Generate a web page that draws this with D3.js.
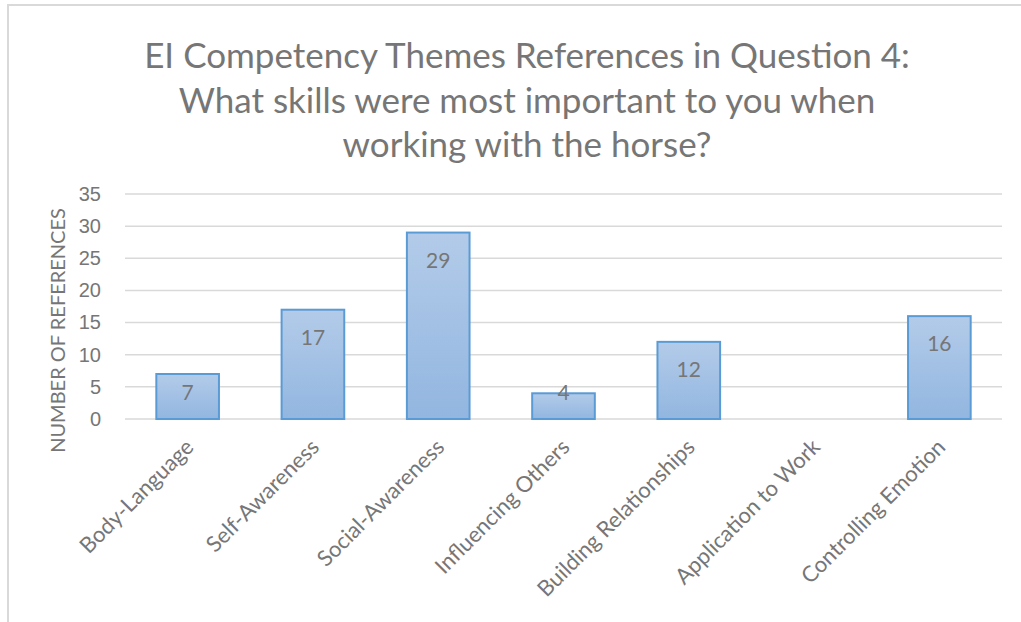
<!DOCTYPE html>
<html>
<head>
<meta charset="utf-8">
<script src="https://cdn.jsdelivr.net/npm/d3@7"></script>
<style>
  body { margin: 0; background: #fff; }
  svg { font-family: Lato, "Open Sans", sans-serif; }
  .grid line { stroke: #d9d9d9; stroke-width: 1.5; }
  .tick text { fill: #767676; }
</style>
</head>
<body>
<svg id="chart" width="1021" height="622"></svg>
<script>
// chart data
var categories = ["Body-Language", "Self-Awareness", "Social-Awareness", "Influencing Others",
                  "Building Relationships", "Application to Work", "Controlling Emotion"];
var references = [7, 17, 29, 4, 12, 0, 16];
var yTicks = [0, 5, 10, 15, 20, 25, 30, 35];
var titleLines = ["EI Competency Themes References in Question 4:",
                  "What skills were most important to you when",
                  "working with the horse?"];

var svg = d3.select("#chart");
var textColor = "#767676";

// frame (only top and left edges show in the picture)
svg.append("line").attr("x1", 7).attr("x2", 1021).attr("y1", 5).attr("y2", 5)
    .attr("stroke", "#d9d9d9").attr("stroke-width", 2);
svg.append("line").attr("x1", 8).attr("x2", 8).attr("y1", 5).attr("y2", 622)
    .attr("stroke", "#d9d9d9").attr("stroke-width", 2);

var margin = {left: 125, right: 19, top: 194, bottom: 203};
var width = 1021 - margin.left - margin.right;
var height = 622 - margin.top - margin.bottom;

var x = d3.scaleBand().domain(categories).range([0, width])
    .paddingInner(0.5).paddingOuter(0.25);
var y = d3.scaleLinear().domain([0, 35]).range([height, 0]);

var defs = svg.append("defs");
var grad = defs.append("linearGradient").attr("id", "barGrad")
    .attr("x1", 0).attr("y1", 0).attr("x2", 0).attr("y2", 1);
grad.append("stop").attr("offset", "0%").attr("stop-color", "#b3cbe9");
grad.append("stop").attr("offset", "100%").attr("stop-color", "#92b6e0");

var g = svg.append("g").attr("transform", "translate(" + margin.left + "," + margin.top + ")");

// gridlines
g.append("g").attr("class", "grid")
    .selectAll("line").data(yTicks).enter().append("line")
    .attr("x1", 0).attr("x2", width)
    .attr("y1", function(d) { return y(d); })
    .attr("y2", function(d) { return y(d); });

// y axis labels
var yAxis = g.append("g")
    .call(d3.axisLeft(y).tickValues(yTicks).tickSize(0).tickPadding(24));
yAxis.select(".domain").remove();
yAxis.selectAll("text").style("font-size", "20px").attr("fill", textColor);

// bars
g.selectAll(".bar").data(references).enter().append("rect")
    .attr("class", "bar")
    .attr("x", function(d, i) { return x(categories[i]); })
    .attr("y", function(d) { return y(d); })
    .attr("width", x.bandwidth())
    .attr("height", function(d) { return height - y(d); })
    .attr("fill", "url(#barGrad)")
    .attr("stroke", "#5b9bd5")
    .attr("stroke-width", 2)
    .style("display", function(d) { return d > 0 ? null : "none"; });

// value labels (inside end, held inside short bars)
var labelled = references.map(function(v, i) { return {cat: categories[i], v: v}; })
    .filter(function(d) { return d.v > 0; });
g.selectAll(".val").data(labelled).enter().append("text")
    .attr("x", function(d) { return x(d.cat) + x.bandwidth() / 2; })
    .attr("y", function(d) { return Math.min(y(d.v) + 28, y(0) - 26); })
    .attr("dy", "0.35em")
    .attr("text-anchor", "middle")
    .attr("fill", textColor)
    .style("font-size", "21px")
    .text(function(d) { return d.v; });

// category labels, rotated
g.append("g").selectAll("text").data(categories).enter().append("text")
    .attr("transform", function(d) {
        return "translate(" + (x(d) + x.bandwidth() / 2 + 2) + "," + (height + 24) + ") rotate(-45)";
    })
    .attr("text-anchor", "end")
    .attr("dy", "0.35em")
    .attr("fill", textColor)
    .style("font-size", "22px")
    .text(function(d) { return d; });

// y axis title
svg.append("text")
    .attr("transform", "translate(58," + (margin.top + height / 2 + 24) + ") rotate(-90)")
    .attr("text-anchor", "middle")
    .attr("dy", "0.35em")
    .attr("fill", textColor)
    .style("font-size", "20px")
    .text("NUMBER OF REFERENCES");

// title
svg.append("g").selectAll("text").data(titleLines).enter().append("text")
    .attr("x", 527)
    .attr("y", function(d, i) { return 68 + i * 44.5; })
    .attr("text-anchor", "middle")
    .attr("fill", textColor)
    .style("font-size", "35px")
    .text(function(d) { return d; });
</script>
</body>
</html>
